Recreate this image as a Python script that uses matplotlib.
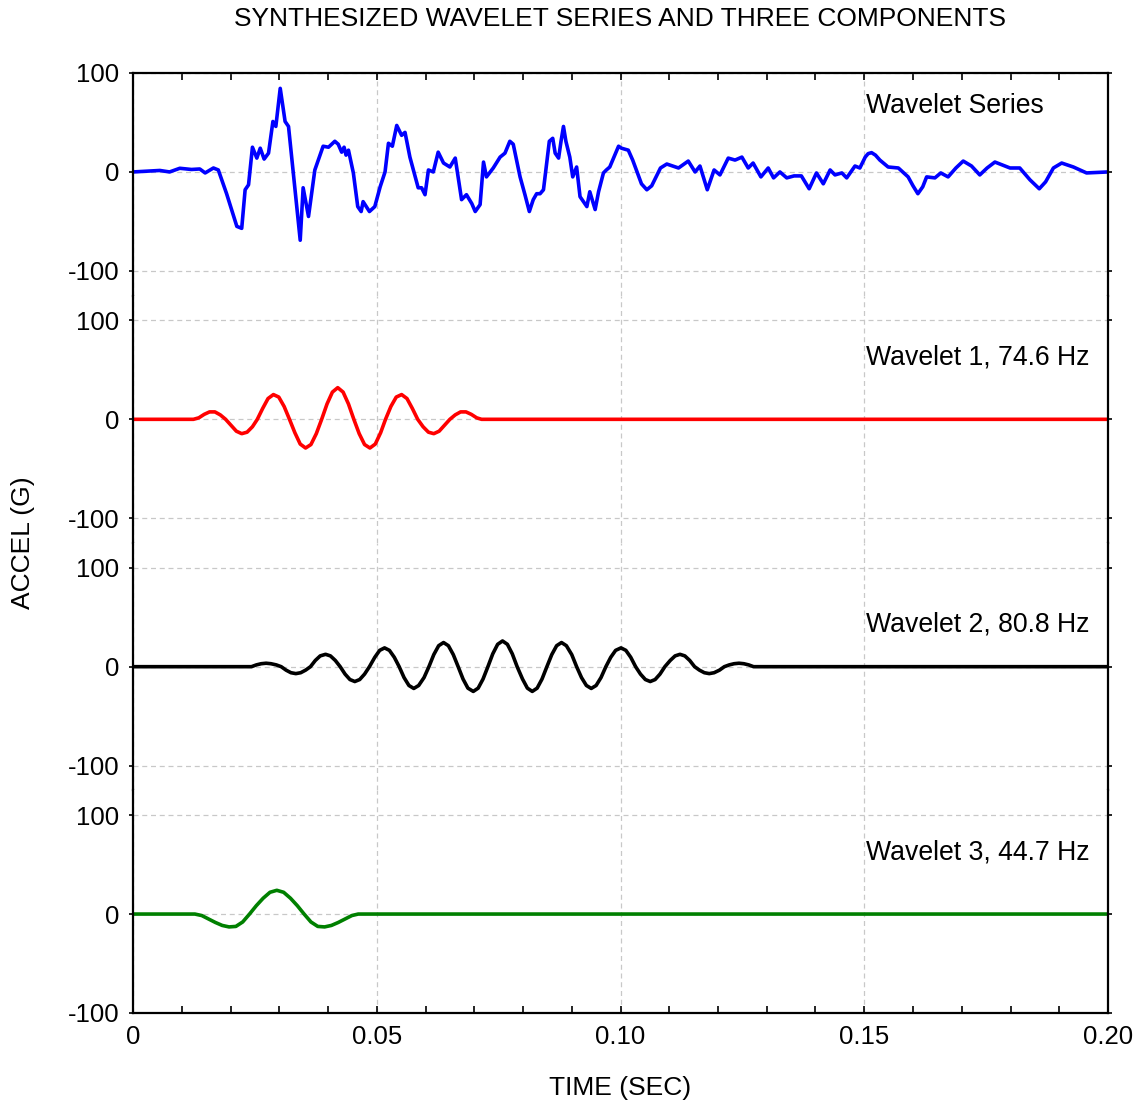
import numpy as np
import matplotlib
matplotlib.use("Agg")
import matplotlib.pyplot as plt
from matplotlib.ticker import MultipleLocator

plt.rcParams['font.family'] = ['Liberation Sans', 'DejaVu Sans']

# ---- data ----
# synthesized series (time in sec, accel in G)
series_t = [0.0, 0.0055, 0.0075, 0.0096, 0.0120, 0.0137, 0.0148, 0.0165, 0.0175,
            0.0192, 0.0213, 0.0223, 0.0230, 0.0237, 0.0245, 0.0254, 0.0261, 0.0269,
            0.0278, 0.0287, 0.0293, 0.0302, 0.0312, 0.0319, 0.0343, 0.0349, 0.0360,
            0.0373, 0.0390, 0.0401, 0.0414, 0.0421, 0.0428, 0.0433, 0.0437, 0.0442,
            0.0452, 0.0461, 0.0468, 0.0472, 0.0485, 0.0496, 0.0507, 0.0517, 0.0524,
            0.0532, 0.0541, 0.0551, 0.0558, 0.0568, 0.0585, 0.0592, 0.0599, 0.0606,
            0.0616, 0.0626, 0.0637, 0.0650, 0.0661, 0.0674, 0.0684, 0.0695, 0.0702,
            0.0712, 0.0719, 0.0725, 0.0739, 0.0753, 0.0763, 0.0773, 0.0780, 0.0794,
            0.0804, 0.0813, 0.0821, 0.0828, 0.0835, 0.0842, 0.0854, 0.0861, 0.0866,
            0.0873, 0.0878, 0.0883, 0.0888, 0.0896, 0.0902, 0.0910, 0.0917, 0.0931,
            0.0937, 0.0948, 0.0955, 0.0965, 0.0971, 0.0978, 0.0996, 0.1002, 0.1016,
            0.1025, 0.1043, 0.1054, 0.1064, 0.1082, 0.1095, 0.1119, 0.1139, 0.1153,
            0.1163, 0.1178, 0.1192, 0.1204, 0.1221, 0.1235, 0.1249, 0.1262, 0.1272,
            0.1288, 0.1303, 0.1314, 0.1327, 0.1341, 0.1356, 0.1371, 0.1387, 0.1402,
            0.1416, 0.1430, 0.1440, 0.1454, 0.1464, 0.1481, 0.1491, 0.1502, 0.1508,
            0.1515, 0.1523, 0.1532, 0.1549, 0.1570, 0.1590, 0.1600, 0.1610, 0.1620,
            0.1628, 0.1645, 0.1657, 0.1672, 0.1688, 0.1703, 0.1720, 0.1737, 0.1752,
            0.1768, 0.1799, 0.1819, 0.1840, 0.1859, 0.1872, 0.1888, 0.1905, 0.1929,
            0.1956, 0.2000]
series_v = [0, 1.5, 0, 3.7, 2.5, 3, -1, 4, 2,
            -22, -55, -57, -18, -13, 25, 14, 24, 13,
            19, 51, 46, 84.5, 51, 46, -69, -16, -45,
            2, 26, 25, 31, 28, 20, 25, 17, 22,
            -1, -35, -40, -30, -40, -35, -15, 0, 29,
            26, 47, 37, 40, 15, -16, -16, -23, 2,
            0, 20, 9, 5, 14, -28, -23, -32, -40,
            -33, 10, -5, 4, 15, 19, 31, 28, -5,
            -23, -40, -28, -22, -22, -18, 31, 34, 19,
            14, 31, 46, 31, 15, -5, 5, -25, -35,
            -20, -38, -20, -1, 2, 5, 26, 24, 22,
            12, -12, -18, -14, 4, 8, 4, 11, 0,
            6, -18, 2, -3, 14, 12, 15, 4, 9,
            -5, 4, -6, 0, -6, -4, -4, -17, -1,
            -12, 2, -3, -1, -6, 6, 4, 15, 18.5,
            19.5, 17, 12, 5, 4, -5, -14, -22, -15,
            -5, -6, -1, -5, 4, 11, 6, -3, 4,
            10, 4, 4, -8, -17, -10, 4, 9, 5,
            -1, 0]

# wavelet 1, 74.6 Hz
w1_t = [0.0, 0.0124, 0.0135, 0.0146, 0.0157, 0.0168, 0.0179, 0.0190,
        0.0201, 0.0212, 0.0223, 0.0234, 0.0245, 0.0255,
        0.0266, 0.0277, 0.0288, 0.0299, 0.0310, 0.0321,
        0.0332, 0.0343, 0.0354, 0.0365, 0.0376, 0.0387,
        0.0398, 0.0409, 0.0420, 0.0431, 0.0442, 0.0453,
        0.0464, 0.0475, 0.0486, 0.0497, 0.0508, 0.0518,
        0.0529, 0.0540, 0.0551, 0.0562, 0.0573, 0.0584,
        0.0595, 0.0606, 0.0617, 0.0628, 0.0639, 0.0650,
        0.0661, 0.0672, 0.0683, 0.0694, 0.0705, 0.0715, 0.2]
w1_v = [0, 0, 1.5, 5, 7.5, 7.5, 4.5, 0,
        -6, -12, -14.5, -13, -7.5, 0,
        11, 21, 25, 22.5, 13, 0,
        -13.5, -25, -29, -25.5, -14.5, 0,
        15.5, 27.5, 32, 27.5, 15.5, 0,
        -14.5, -25.5, -29, -25, -13.5, 0,
        13, 22.5, 25, 21, 11, 0,
        -7.5, -13, -14.5, -12, -6, 0,
        4.5, 7.5, 7.5, 5, 1.5, 0, 0]

# wavelet 2, 80.8 Hz
w2_t = [0.0, 0.0243, 0.0253, 0.0263, 0.0273, 0.0283, 0.0294, 0.0304, 0.0314, 0.0324,
        0.0334, 0.0344, 0.0354, 0.0364, 0.0374, 0.0384, 0.0395, 0.0405, 0.0415,
        0.0425, 0.0435, 0.0445, 0.0455, 0.0465, 0.0475, 0.0485, 0.0496, 0.0506,
        0.0516, 0.0526, 0.0536, 0.0546, 0.0556, 0.0566, 0.0576, 0.0586, 0.0597,
        0.0607, 0.0617, 0.0627, 0.0637, 0.0647, 0.0657, 0.0667, 0.0677, 0.0687,
        0.0698, 0.0708, 0.0718, 0.0728, 0.0738, 0.0748, 0.0758, 0.0768, 0.0778,
        0.0788, 0.0799, 0.0809, 0.0819, 0.0829, 0.0839, 0.0849, 0.0859, 0.0869,
        0.0879, 0.0889, 0.0900, 0.0910, 0.0920, 0.0930, 0.0940, 0.0950, 0.0960,
        0.0970, 0.0980, 0.0990, 0.1001, 0.1011, 0.1021, 0.1031, 0.1041, 0.1051,
        0.1061, 0.1071, 0.1081, 0.1091, 0.1102, 0.1112, 0.1122, 0.1132, 0.1142,
        0.1152, 0.1162, 0.1172, 0.1182, 0.1192, 0.1203, 0.1213, 0.1223, 0.1233,
        0.1243, 0.1253, 0.1263, 0.1273, 0.2]
w2_v = [0,
        0, 1.8, 3.0, 3.5, 3.0, 1.8,
        0, -3.5, -6.1, -7, -6.1, -3.5,
        0, 6.3, 10.9, 12.5, 10.9, 6.3,
        0, -7.5, -13, -15, -13, -7.5,
        0, 9.5, 16.5, 19, 16.5, 9.5,
        0, -11, -19, -22, -19, -11,
        0, 12.2, 21.2, 24.4, 21.2, 12.2,
        0, -12.5, -21.7, -25, -21.7, -12.5,
        0, 13, 22.6, 26, 22.6, 13,
        0, -12.5, -21.7, -25, -21.7, -12.5,
        0, 12.2, 21.2, 24.4, 21.2, 12.2,
        0, -11, -19, -22, -19, -11,
        0, 9.5, 16.5, 19, 16.5, 9.5,
        0, -7.5, -13, -15, -13, -7.5,
        0, 6.3, 10.9, 12.5, 10.9, 6.3,
        0, -3.5, -6.1, -7, -6.1, -3.5,
        0, 1.8, 3.0, 3.5, 3.0, 1.8,
        0, 0]

# wavelet 3, 44.7 Hz
w3_t = [0.0, 0.0127, 0.0141, 0.0155, 0.0169, 0.0183, 0.0197, 0.0211, 0.0225,
        0.0239, 0.0253, 0.0267, 0.0281, 0.0295, 0.0309, 0.0323, 0.0337,
        0.0351, 0.0365, 0.0379, 0.0393, 0.0407, 0.0421, 0.0435, 0.0449,
        0.0462, 0.2]
w3_v = [0, 0, -1.5, -5, -8.5, -11.5, -13, -12.5, -8,
        0, 8.5, 16, 22, 24, 22, 16, 8.5,
        0, -8, -12.5, -13, -11.5, -8.5, -5, -1.5,
        0, 0]

panel_labels = ['Wavelet Series', 'Wavelet 1, 74.6 Hz',
                'Wavelet 2, 80.8 Hz', 'Wavelet 3, 44.7 Hz']
label_y = [67, 62, 43, 62]
colors = ['#0000ff', '#ff0000', '#000000', '#008000']
x_ticks = [0, 0.05, 0.10, 0.15, 0.20]
x_ticklabels = ['0', '0.05', '0.10', '0.15', '0.20']

fig = plt.figure(figsize=(11.41, 11.05), dpi=100)
gs = fig.add_gridspec(4, 1, height_ratios=[225, 250, 250, 225], hspace=0,
                      left=133/1141, right=1108/1141, top=1-73/1105, bottom=1-1013/1105)
axes = [fig.add_subplot(gs[i]) for i in range(4)]
ylims = [(-125, 100), (-125, 125), (-125, 125), (-100, 125)]
curves = [(series_t, series_v), (w1_t, w1_v), (w2_t, w2_v), (w3_t, w3_v)]

for i, ax in enumerate(axes):
    t, v = curves[i]
    ax.plot(t, v, color=colors[i], linewidth=2.6, solid_joinstyle='round')
    ax.set_xlim(0, 0.2)
    ax.set_ylim(*ylims[i])
    ax.set_yticks([-100, 0, 100])
    ax.set_yticklabels(['-100', '0', '100'])
    ax.set_xticks(x_ticks)
    ax.set_xticklabels(x_ticklabels)
    ax.xaxis.set_minor_locator(MultipleLocator(0.01))
    ax.grid(True, which='major', color='#c8c8c8', linestyle=(0, (4, 3)), linewidth=0.9)
    ax.set_axisbelow(True)
    ax.tick_params(axis='y', which='both', left=True, right=True, direction='out',
                   length=3, width=1.2, labelsize=18.5, pad=7)
    ax.tick_params(axis='x', which='both', top=(i == 0), bottom=(i == 3),
                   direction='in', length=5, width=1.2, labelsize=18.5, pad=9,
                   labelbottom=(i == 3))
    for side in ['left', 'right', 'top', 'bottom']:
        ax.spines[side].set_linewidth(1.6)
    if i != 0:
        ax.spines['top'].set_visible(False)
    if i != 3:
        ax.spines['bottom'].set_visible(False)
    ax.text(0.1504, label_y[i], panel_labels[i], fontsize=19.2, ha='left', va='center')

fig.text(620/1141, 1-19/1105, 'SYNTHESIZED WAVELET SERIES AND THREE COMPONENTS',
         fontsize=19, ha='center', va='center')
fig.text(620/1141, 1-1088/1105, 'TIME (SEC)', fontsize=19, ha='center', va='center')
fig.text(23/1141, 1-543/1105, 'ACCEL (G)', fontsize=19, ha='center', va='center',
         rotation=90)

fig.savefig('out.png', dpi=100)
